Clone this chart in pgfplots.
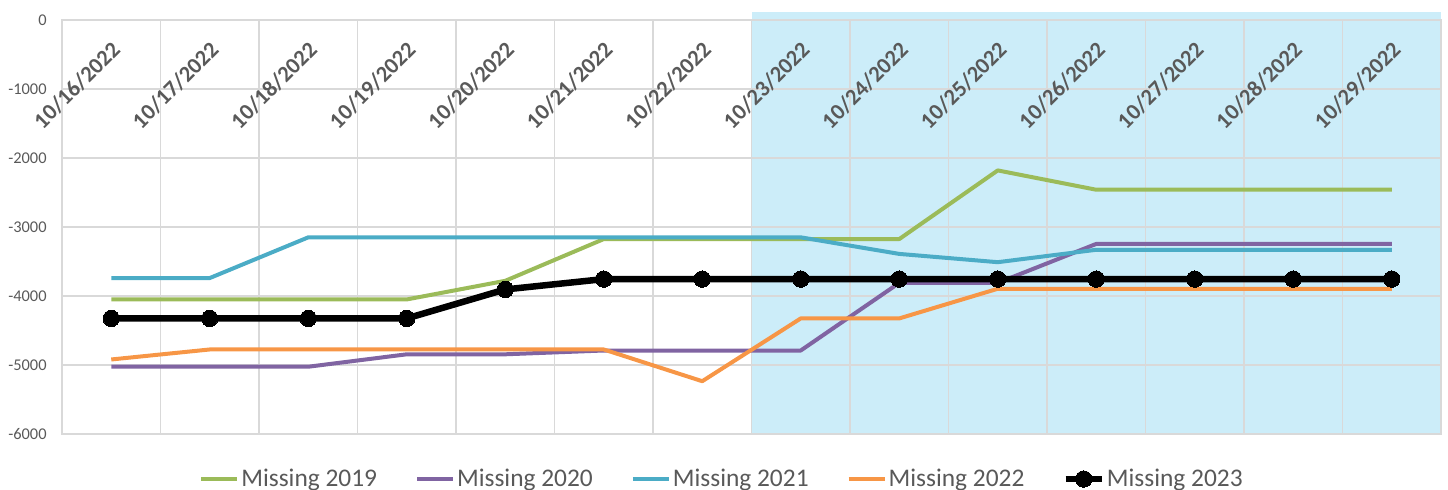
\documentclass[border=0pt]{standalone}
\usepackage{fontspec}
\setmainfont{Carlito}
\usepackage{pgfplots}
\pgfplotsset{compat=1.18}
\definecolor{c19}{HTML}{9BBB59}
\definecolor{c20}{HTML}{8064A2}
\definecolor{c21}{HTML}{4BACC6}
\definecolor{c22}{HTML}{F79646}
\definecolor{gridc}{HTML}{D9D9D9}
\definecolor{labc}{HTML}{595959}
\definecolor{shade}{RGB}{204,237,249}
\begin{document}
\begin{tikzpicture}
\begin{axis}[
  name=ax,
  set layers,
  scale only axis, width=689.5pt, height=207pt,
  xmin=-0.5, xmax=13.5, ymin=-6000, ymax=0,
  clip=false,
  xtick={0,...,13},
  xticklabels={10/16/2022,10/17/2022,10/18/2022,10/19/2022,10/20/2022,10/21/2022,10/22/2022,10/23/2022,10/24/2022,10/25/2022,10/26/2022,10/27/2022,10/28/2022,10/29/2022},
  xticklabel pos=upper,
  minor xtick={-0.5,0.5,...,13.5},
  xminorgrids=true, xmajorgrids=false,
  ytick={-6000,-5000,-4000,-3000,-2000,-1000,0},
  yticklabels={-6000,-5000,-4000,-3000,-2000,-1000,0},
  ymajorgrids=true,
  grid style={draw=gridc, line width=0.8pt},
  minor grid style={draw=gridc, line width=0.8pt},
  major tick length=0pt, minor tick length=0pt,
  axis line style={draw=gridc, line width=0.8pt},
  xticklabel style={font=\fontsize{11.3}{13}\selectfont\bfseries, text=labc, inner sep=0pt, xshift=2.6pt, yshift=-13pt, rotate=45, anchor=east},
  yticklabel style={font=\fontsize{8.2}{10}\selectfont, text=labc, inner sep=0pt, anchor=east, xshift=-7.5pt},
  legend style={at={(0.4786,-0.1087)}, anchor=center, draw=none, fill=none,
    legend columns=5, font=\fontsize{12.7}{14}\selectfont, text=labc,
    nodes={inner sep=1pt},
    /tikz/every even column/.append style={column sep=18pt}},
  legend cell align=left,
  legend image code/.code={\draw[#1, mark repeat=2, mark phase=2] plot coordinates {(0pt,0pt) (9pt,0pt) (18pt,0pt)};},
  every axis plot/.append style={line join=round},
]
\addplot[forget plot, on layer=axis background, fill=shade, draw=none] coordinates {(6.5,-6000) (6.5,116) (13.5,116) (13.5,-6000)};

\addplot[c19, line width=2pt, mark=none] coordinates {
(0,-4050) (1,-4050) (2,-4050) (3,-4050) (4,-3780) (5,-3175) (6,-3175)
(7,-3175) (8,-3175) (9,-2180) (10,-2460) (11,-2460) (12,-2460) (13,-2460)};
\addlegendentry{Missing 2019}
\addplot[c20, line width=2pt, mark=none] coordinates {
(0,-5025) (1,-5025) (2,-5025) (3,-4845) (4,-4845) (5,-4790) (6,-4790)
(7,-4790) (8,-3810) (9,-3810) (10,-3245) (11,-3245) (12,-3245) (13,-3245)};
\addlegendentry{Missing 2020}
\addplot[c21, line width=2pt, mark=none] coordinates {
(0,-3740) (1,-3740) (2,-3150) (3,-3150) (4,-3150) (5,-3150) (6,-3150)
(7,-3150) (8,-3390) (9,-3510) (10,-3330) (11,-3330) (12,-3330) (13,-3330)};
\addlegendentry{Missing 2021}
\addplot[c22, line width=2pt, mark=none] coordinates {
(0,-4920) (1,-4775) (2,-4775) (3,-4775) (4,-4775) (5,-4775) (6,-5235)
(7,-4325) (8,-4325) (9,-3895) (10,-3895) (11,-3895) (12,-3895) (13,-3895)};
\addlegendentry{Missing 2022}
\addplot[black, line width=3.25pt, mark=*, mark size=4.1pt, mark options={solid, line width=0pt, fill=black}] coordinates {
(0,-4325) (1,-4325) (2,-4325) (3,-4325) (4,-3905) (5,-3755) (6,-3755)
(7,-3755) (8,-3755) (9,-3755) (10,-3755) (11,-3755) (12,-3755) (13,-3755)};
\addlegendentry{Missing 2023}
\end{axis}
\pgfresetboundingbox
\useasboundingbox ([shift={(-31pt,-28pt)}]ax.south west) rectangle ([shift={(3.5pt,10pt)}]ax.north east);
\end{tikzpicture}
\end{document}
